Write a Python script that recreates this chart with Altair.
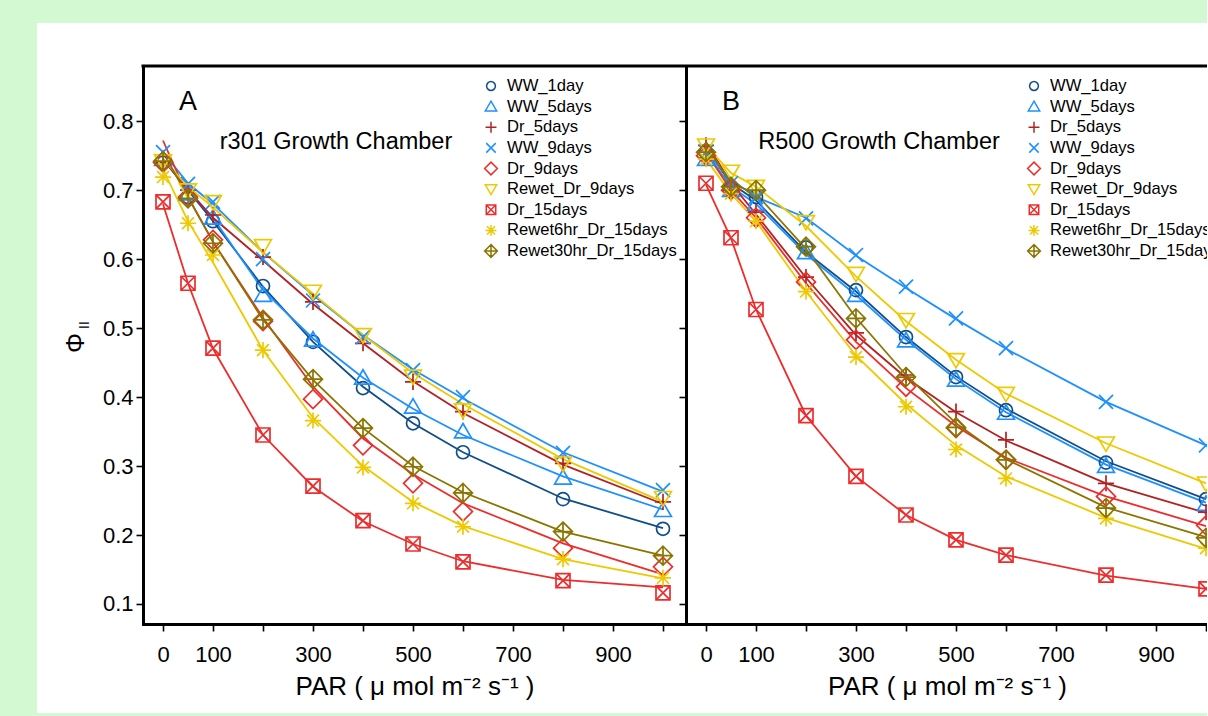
import altair as alt
import pandas as pd

# ---------------- data ----------------
par = [0, 50, 100, 200, 300, 400, 500, 600, 800, 1000]
x_ticks = [0, 100, 200, 300, 400, 500, 600, 700, 800, 900, 1000]
x_labelled = [0, 100, 300, 500, 700, 900]
y_ticks = [0.1, 0.2, 0.3, 0.4, 0.5, 0.6, 0.7, 0.8]

series = ["WW_1day", "WW_5days", "Dr_5days", "WW_9days", "Dr_9days",
          "Rewet_Dr_9days", "Dr_15days", "Rewet6hr_Dr_15days", "Rewet30hr_Dr_15days"]
colors = ["#104E8B", "#1E90FF", "#B22222", "#1E90FF", "#EE2C2C",
          "#EEC900", "#EE2C2C", "#EEC900", "#8B7500"]

# panel A (r301) measured points
ptsA_ww1 = [0.740, 0.690, 0.655, 0.561, 0.480, 0.413, 0.362, 0.320, 0.252, 0.209]
ptsA_ww5 = [0.745, 0.695, 0.660, 0.548, 0.483, 0.428, 0.386, 0.350, 0.283, 0.236]
ptsA_dr5 = [0.740, 0.700, 0.664, 0.603, 0.538, 0.478, 0.422, 0.379, 0.304, 0.248]
ptsA_ww9 = [0.755, 0.709, 0.683, 0.600, 0.540, 0.487, 0.439, 0.400, 0.319, 0.265]
ptsA_dr9 = [0.740, 0.690, 0.628, 0.510, 0.397, 0.330, 0.275, 0.234, 0.181, 0.154]
ptsA_rw9 = [0.742, 0.700, 0.683, 0.619, 0.553, 0.490, 0.430, 0.381, 0.304, 0.254]
ptsA_dr15 = [0.683, 0.565, 0.471, 0.345, 0.271, 0.221, 0.187, 0.161, 0.134, 0.116]
ptsA_rw6 = [0.719, 0.652, 0.606, 0.468, 0.366, 0.298, 0.246, 0.212, 0.165, 0.138]
ptsA_rw30 = [0.742, 0.688, 0.623, 0.512, 0.426, 0.355, 0.299, 0.261, 0.205, 0.170]

# panel A fitted curves
fitA_ww1 = [0.745, 0.700, 0.655, 0.560, 0.480, 0.415, 0.362, 0.320, 0.253, 0.210]
fitA_ww5 = [0.745, 0.700, 0.660, 0.555, 0.485, 0.428, 0.383, 0.345, 0.285, 0.237]
fitA_dr5 = [0.745, 0.700, 0.660, 0.598, 0.535, 0.478, 0.423, 0.377, 0.302, 0.245]
fitA_ww9 = [0.755, 0.710, 0.680, 0.610, 0.548, 0.490, 0.440, 0.398, 0.320, 0.263]
fitA_dr9 = [0.772, 0.690, 0.625, 0.515, 0.415, 0.340, 0.288, 0.246, 0.188, 0.143]
fitA_rw9 = [0.745, 0.705, 0.675, 0.610, 0.550, 0.490, 0.435, 0.390, 0.310, 0.248]
fitA_dr15 = [0.680, 0.565, 0.470, 0.345, 0.270, 0.220, 0.187, 0.162, 0.135, 0.124]
fitA_rw6 = [0.730, 0.655, 0.595, 0.468, 0.370, 0.300, 0.248, 0.213, 0.165, 0.137]
fitA_rw30 = [0.755, 0.690, 0.625, 0.512, 0.425, 0.355, 0.300, 0.262, 0.205, 0.170]

# panel B (R500) measured points
ptsB_ww1 = [0.755, 0.705, 0.690, 0.617, 0.555, 0.487, 0.429, 0.381, 0.305, 0.252]
ptsB_ww5 = [0.745, 0.700, 0.680, 0.610, 0.548, 0.482, 0.425, 0.377, 0.300, 0.245]
ptsB_dr5 = [0.765, 0.700, 0.668, 0.574, 0.493, 0.432, 0.379, 0.338, 0.275, 0.233]
ptsB_ww9 = [0.755, 0.710, 0.690, 0.659, 0.606, 0.560, 0.514, 0.471, 0.393, 0.330]
ptsB_dr9 = [0.750, 0.700, 0.660, 0.567, 0.483, 0.415, 0.355, 0.309, 0.256, 0.214]
ptsB_rw9 = [0.765, 0.727, 0.705, 0.654, 0.579, 0.512, 0.454, 0.405, 0.333, 0.275]
ptsB_dr15 = [0.710, 0.631, 0.527, 0.373, 0.285, 0.229, 0.193, 0.171, 0.142, 0.122]
ptsB_rw6 = [0.745, 0.695, 0.655, 0.553, 0.458, 0.386, 0.324, 0.282, 0.224, 0.181]
ptsB_rw30 = [0.755, 0.705, 0.700, 0.618, 0.514, 0.429, 0.356, 0.309, 0.239, 0.196]

# panel B fitted curves
fitB_ww1 = [0.760, 0.710, 0.685, 0.610, 0.553, 0.487, 0.430, 0.383, 0.307, 0.252]
fitB_ww5 = [0.755, 0.705, 0.680, 0.607, 0.548, 0.483, 0.426, 0.378, 0.302, 0.247]
fitB_dr5 = [0.770, 0.710, 0.665, 0.573, 0.490, 0.428, 0.378, 0.337, 0.275, 0.232]
fitB_ww9 = [0.755, 0.715, 0.690, 0.660, 0.605, 0.558, 0.513, 0.470, 0.393, 0.330]
fitB_dr9 = [0.755, 0.700, 0.660, 0.565, 0.480, 0.413, 0.358, 0.312, 0.256, 0.213]
fitB_rw9 = [0.765, 0.725, 0.705, 0.648, 0.575, 0.510, 0.454, 0.405, 0.333, 0.275]
fitB_dr15 = [0.708, 0.630, 0.527, 0.373, 0.285, 0.229, 0.193, 0.171, 0.141, 0.122]
fitB_rw6 = [0.745, 0.695, 0.655, 0.553, 0.460, 0.390, 0.330, 0.285, 0.225, 0.180]
fitB_rw30 = [0.765, 0.710, 0.695, 0.615, 0.515, 0.432, 0.362, 0.310, 0.240, 0.197]

ptsA = [ptsA_ww1, ptsA_ww5, ptsA_dr5, ptsA_ww9, ptsA_dr9, ptsA_rw9, ptsA_dr15, ptsA_rw6, ptsA_rw30]
fitA = [fitA_ww1, fitA_ww5, fitA_dr5, fitA_ww9, fitA_dr9, fitA_rw9, fitA_dr15, fitA_rw6, fitA_rw30]
ptsB = [ptsB_ww1, ptsB_ww5, ptsB_dr5, ptsB_ww9, ptsB_dr9, ptsB_rw9, ptsB_dr15, ptsB_rw6, ptsB_rw30]
fitB = [fitB_ww1, fitB_ww5, fitB_dr5, fitB_ww9, fitB_dr9, fitB_rw9, fitB_dr15, fitB_rw6, fitB_rw30]

# ---------------- styles ----------------
shapes = [
    "M0.93,0A0.93,0.93,0,1,1,-0.93,0A0.93,0.93,0,1,1,0.93,0Z",            # circle
    "M0,-1.15L1.2,0.9L-1.2,0.9Z",                                            # triangle up
    "M-1.15,0H1.15M0,-1.15V1.15",                                            # plus
    "M-1,-1L1,1M-1,1L1,-1",                                                  # x
    "M0,-1.35L1.35,0L0,1.35L-1.35,0Z",                                       # diamond
    "M0,1.15L1.2,-0.9L-1.2,-0.9Z",                                           # triangle down
    "M-1,-1H1V1H-1Z M-1,-1L1,1M-1,1L1,-1",                                   # square with x
    "M-1.15,0H1.15M0,-1.15V1.15M-0.85,-0.85L0.85,0.85M-0.85,0.85L0.85,-0.85",  # asterisk
    "M0,-1.35L1.35,0L0,1.35L-1.35,0Z M-1.35,0H1.35M0,-1.35V1.35",            # diamond plus
]

FONT = "Liberation Sans"
GREEN = "#d3f9d3"
H = 558
W_A = 543
W_B = 522

color_scale = alt.Scale(domain=series, range=colors)
shape_scale = alt.Scale(domain=series, range=shapes)
y_scale = alt.Scale(domain=[0.071, 0.88], nice=False, zero=False)
leg_scale = alt.Scale(domain=[0, 8], range=[20, 185])

AX = dict(
    grid=False, zindex=1,
    domainColor="black", domainWidth=3, domainCap="square",
    tickColor="black", tickWidth=1.6, tickSize=7,
    labelFont=FONT, labelFontSize=22, labelColor="black",
    titleFont=FONT, titleFontSize=26, titleFontWeight="normal", titleColor="black",
)


def long_df(arrs):
    rows = []
    for i, s in enumerate(series):
        for x, v in zip(par, arrs[i]):
            rows.append({"series": s, "par": x, "phi": v})
    return pd.DataFrame(rows)


legend_df = pd.DataFrame({"series": series, "row": list(range(len(series)))})
one = pd.DataFrame({"k": [0]})


def panel(letter, subtitle, pts, fit, width, xmax, left):
    x_scale = alt.Scale(domain=[-40, xmax], nice=False, zero=False)
    x_axis = alt.Axis(
        values=x_ticks,
        labelExpr="indexof(%s, datum.value) >= 0 ? datum.label : ''" % str(x_labelled),
        title="PAR ( \u03bc mol m\u207b\u00b2 s\u207b\u00b9 )",
        labelPadding=13, titlePadding=8,
        **AX,
    )
    y_axis = alt.Axis(values=y_ticks, format=".1f", labels=left, title=None,
                      labelPadding=3, **AX)
    clip = not left

    bg = alt.Chart(one).mark_rect(color="white").encode(
        x=alt.value(-106 if left else 0), x2=alt.value(width),
        y=alt.value(-43), y2=alt.value(H + 89))
    top = alt.Chart(one).mark_rule(color="black", strokeWidth=3,
                                   strokeCap="square" if left else "butt").encode(
        x=alt.value(0), x2=alt.value(width), y=alt.value(0))

    lines = alt.Chart(long_df(fit)).mark_line(strokeWidth=1.8, clip=clip).encode(
        x=alt.X("par:Q", scale=x_scale, axis=x_axis),
        y=alt.Y("phi:Q", scale=y_scale, axis=y_axis),
        color=alt.Color("series:N", scale=color_scale, legend=None),
    )
    points = alt.Chart(long_df(pts)).mark_point(
        filled=False, size=196, strokeWidth=1.7, opacity=1, clip=clip).encode(
        x=alt.X("par:Q", scale=x_scale),
        y=alt.Y("phi:Q", scale=y_scale),
        color=alt.Color("series:N", scale=color_scale, legend=None),
        shape=alt.Shape("series:N", scale=shape_scale, legend=None),
    )
    t_letter = alt.Chart(one).mark_text(text=letter, fontSize=27, font=FONT,
                                        color="black", align="center", baseline="middle").encode(
        x=alt.value(45), y=alt.value(36))
    t_sub = alt.Chart(one).mark_text(text=subtitle, fontSize=23.5, font=FONT,
                                     color="black", align="center", baseline="middle").encode(
        x=alt.value(193), y=alt.value(76))

    layers = [bg, top, lines, points, t_letter, t_sub]
    if left:
        phi = alt.Chart(one).mark_text(text="\u03a6", fontSize=25, font=FONT, angle=270,
                                       color="black", align="center", baseline="middle").encode(
            x=alt.value(-67), y=alt.value(277))
        sub = alt.Chart(one).mark_text(text="II", fontSize=14, font=FONT, angle=270,
                                       color="black", align="center", baseline="middle").encode(
            x=alt.value(-58), y=alt.value(259))
        layers += [phi, sub]
    main = alt.layer(*layers)

    leg_pts = alt.Chart(legend_df).mark_point(
        filled=False, size=90, strokeWidth=1.5, opacity=1).encode(
        x=alt.value(348),
        y=alt.Y("row:Q", scale=leg_scale, axis=None),
        color=alt.Color("series:N", scale=color_scale, legend=None),
        shape=alt.Shape("series:N", scale=shape_scale, legend=None),
    )
    leg_txt = alt.Chart(legend_df).mark_text(
        align="left", baseline="middle", fontSize=16.6, font=FONT, color="black",
        clip=clip).encode(
        x=alt.value(364),
        y=alt.Y("row:Q", scale=leg_scale, axis=None),
        text="series:N",
    )
    legend = alt.layer(leg_pts, leg_txt)
    return alt.layer(main, legend).resolve_scale(y="independent").properties(
        width=width, height=H)


pA = panel("A", "r301 Growth Chamber", ptsA, fitA, W_A, 1046, True)
pB = panel("B", "R500 Growth Chamber", ptsB, fitB, W_B, 1004, False)

chart = alt.hconcat(pA, pB, spacing=0, bounds="flush").configure(
    background=GREEN,
    padding={"left": 37, "top": 23, "right": -3, "bottom": 3},
    font=FONT,
).configure_view(stroke=None)

chart.save("out.html", embed_options={"renderer": "svg", "actions": False})
